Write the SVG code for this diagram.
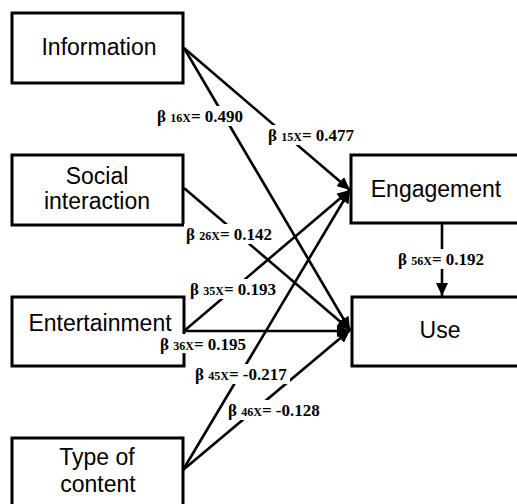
<svg xmlns="http://www.w3.org/2000/svg" width="517" height="504" viewBox="0 0 517 504">
<style>
.box{fill:#fff;stroke:#000;stroke-width:3}
.nt{font-family:"Liberation Sans",Arial,sans-serif;font-size:23px;fill:#000;text-anchor:middle}
.ln{stroke:#000;stroke-width:2.6;fill:none}
.lb{font-family:"Liberation Serif","Times New Roman",serif;font-size:17px;font-weight:bold;fill:#000}
.sb{font-size:12px}
.bg{fill:#fff}
</style>
<defs>
<marker id="ah" markerUnits="userSpaceOnUse" markerWidth="14" markerHeight="12" refX="13" refY="6" orient="auto">
<path d="M0,0 L13,6 L0,12 z" fill="#000"/>
</marker>
</defs>
<rect width="517" height="504" fill="#fff"/>
<g id="connectors">
<line class="ln" x1="184" y1="48" x2="350" y2="190" marker-end="url(#ah)"/>
<line class="ln" x1="184" y1="48" x2="350" y2="330" marker-end="url(#ah)"/>
<line class="ln" x1="184" y1="188" x2="350" y2="330" marker-end="url(#ah)"/>
<line class="ln" x1="184" y1="331" x2="350" y2="190" marker-end="url(#ah)"/>
<line class="ln" x1="184" y1="331" x2="350" y2="331" marker-end="url(#ah)"/>
<line class="ln" x1="183" y1="470" x2="350" y2="190" marker-end="url(#ah)"/>
<line class="ln" x1="183" y1="470" x2="350" y2="330" marker-end="url(#ah)"/>
<line class="ln" x1="442" y1="223" x2="442" y2="296" marker-end="url(#ah)"/>
</g>
<g id="information"><rect class="box" x="12" y="13" width="171" height="70"/><text class="nt" x="99" y="55">Information</text></g>
<g id="social"><rect class="box" x="12" y="155" width="171" height="70"/><text class="nt" x="97" y="184">Social</text><text class="nt" x="97" y="209">interaction</text></g>
<g id="entertainment"><rect class="box" x="12" y="297" width="172" height="69"/><text class="nt" x="100" y="331">Entertainment</text></g>
<g id="type"><rect class="box" x="12" y="438" width="171" height="80"/><text class="nt" x="97" y="465">Type of</text><text class="nt" x="98" y="492">content</text></g>
<g id="engagement"><rect class="box" x="351" y="155" width="200" height="68"/><text class="nt" x="436" y="197">Engagement</text></g>
<g id="use"><rect class="box" x="352" y="297" width="200" height="69"/><text class="nt" x="440" y="338">Use</text></g>
<g id="labels">
<rect class="bg" x="155" y="106" width="90" height="20"/>
<text class="lb" x="157" y="122">β <tspan class="sb">16X</tspan>= 0.490</text>
<rect class="bg" x="266" y="125" width="93" height="20"/>
<text class="lb" x="268" y="141">β <tspan class="sb">15X</tspan>= 0.477</text>
<rect class="bg" x="184" y="224" width="92" height="20"/>
<text class="lb" x="186" y="240">β <tspan class="sb">26X</tspan>= 0.142</text>
<rect class="bg" x="188" y="279" width="92" height="20"/>
<text class="lb" x="190" y="295">β <tspan class="sb">35X</tspan>= 0.193</text>
<rect class="bg" x="158" y="334" width="92" height="19"/>
<text class="lb" x="160" y="350">β <tspan class="sb">36X</tspan>= 0.195</text>
<rect class="bg" x="193" y="364" width="97" height="20"/>
<text class="lb" x="195" y="380">β <tspan class="sb">45X</tspan>= -0.217</text>
<rect class="bg" x="226" y="400" width="97" height="20"/>
<text class="lb" x="228" y="416">β <tspan class="sb">46X</tspan>= -0.128</text>
<rect class="bg" x="396" y="249" width="92" height="20"/>
<text class="lb" x="398" y="265">β <tspan class="sb">56X</tspan>= 0.192</text>
</g>
</svg>
